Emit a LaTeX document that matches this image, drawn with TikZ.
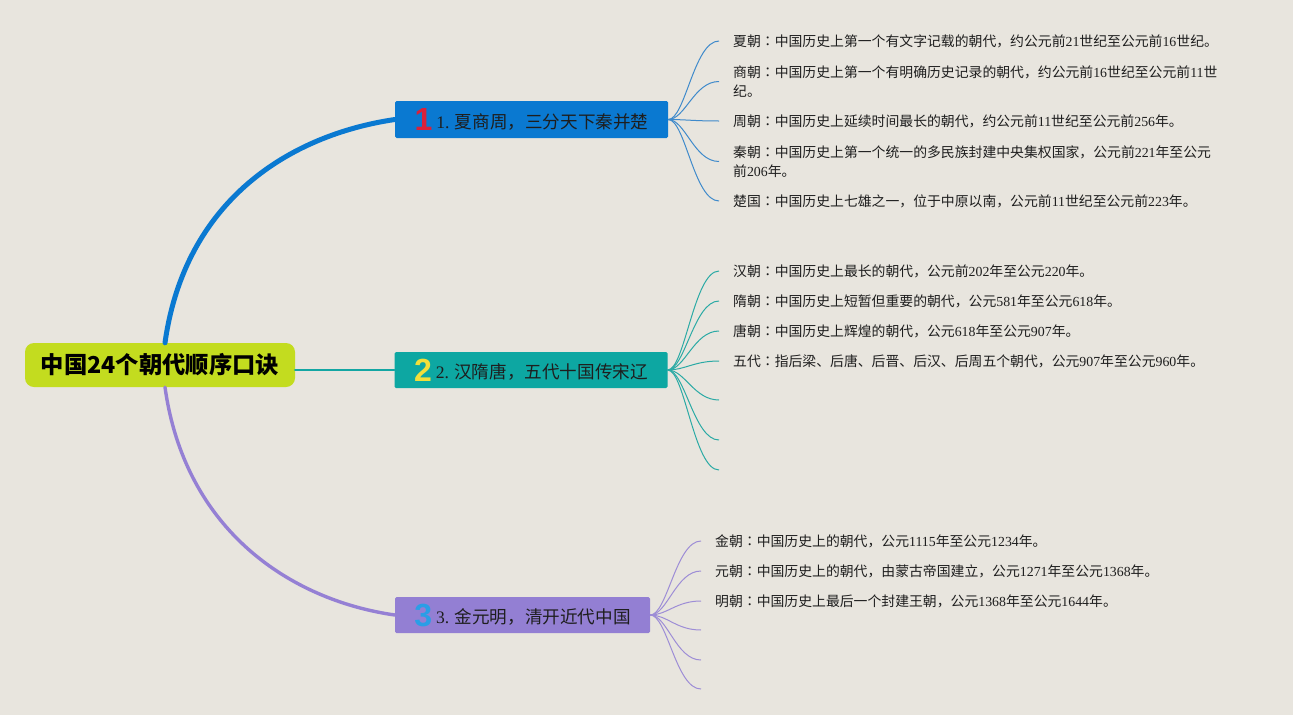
\documentclass[tikz,border=0pt]{standalone}
\usepackage{fontspec}
\setmainfont{Liberation Serif}
\newfontfamily\cjk{Noto Sans CJK SC}
\newfontfamily\cjkjp{Noto Sans CJK JP}
\newfontfamily\iconfont{Liberation Sans}
\newcommand\dg[1]{{\rmfamily #1}}
\newcommand\cc{{\cjkjp ：}}
\definecolor{bgc}{HTML}{E8E5DE}
\definecolor{rootfill}{HTML}{C3DC1F}
\definecolor{bluefill}{HTML}{0A79D1}
\definecolor{tealfill}{HTML}{0DA7A2}
\definecolor{purpfill}{HTML}{937FD3}
\definecolor{blueline}{HTML}{0A79D1}
\definecolor{tealline}{HTML}{13A6A3}
\definecolor{purpline}{HTML}{9580D4}
\definecolor{blueleaf}{HTML}{3F8ACB}
\definecolor{tealleaf}{HTML}{2BAAA5}
\definecolor{purpleaf}{HTML}{9D8DD6}
\definecolor{iconR}{HTML}{D9213B}
\definecolor{iconY}{HTML}{F2DF3A}
\definecolor{iconB}{HTML}{2A9EE6}
\definecolor{txt}{HTML}{1E1E1E}
\newcommand\icon[2]{\raisebox{-2.5pt}{\iconfont\bfseries\fontsize{32}{32}\selectfont\color{#1}#2}\hspace{4pt}}
\begin{document}
\begin{tikzpicture}[x=1pt,y=-1pt,
  rootbox/.style={fill=rootfill, rounded corners=9pt, minimum width=270pt, minimum height=44pt,
    inner sep=0pt, font=\cjk\bfseries\fontsize{23.3}{26}\selectfont, text=black},
  topicbox/.style={rounded corners=1.5pt, minimum height=37pt, inner sep=0pt,
    font=\cjk\fontsize{17.6}{20}\selectfont, text=txt},
  leaf/.style={anchor=west, align=left, inner xsep=14pt, inner ysep=0pt,
    font=\cjk\fontsize{13.85}{19}\selectfont, text=txt},
  mainline/.style={line cap=round},
  leafline/.style={line width=1pt}
]
\path[fill=bgc] (0,0) rectangle (1293,715);
\useasboundingbox (0,0) rectangle (1293,715);

% root
\node[rootbox] (root) at (160,365) {中国24个朝代顺序口诀};

% topic boxes
\node[topicbox, fill=bluefill, minimum width=273pt] (b1) at (531.5,119.5) {\icon{iconR}{1}\dg{1.} 夏商周，三分天下秦并楚};
\node[topicbox, fill=tealfill, minimum width=273pt, minimum height=36pt] (b2) at (531,370) {\icon{iconY}{2}\dg{2.} 汉隋唐，五代十国传宋辽};
\node[topicbox, fill=purpfill, minimum width=255pt, minimum height=36pt] (b3) at (522.5,615) {\icon{iconB}{3}\dg{3.} 金元明，清开近代中国};

% main connectors
\draw[mainline, blueline, line width=5pt] ([xshift=5pt]root.north) .. controls (185,200) and (290,135) .. (b1.west);
\draw[mainline, tealline, line width=2.8pt] (root.east |- b2.west) -- (b2.west);
\draw[mainline, purpline, line width=3.4pt] ([xshift=5pt]root.south) .. controls (185,530) and (290,600) .. (b3.west);

% branch 1 leaves
\node[leaf] (l11) at (719,41) {夏朝\cc 中国历史上第一个有文字记载的朝代，约公元前\dg{21}世纪至公元前\dg{16}世纪。};
\node[leaf] (l12) at (719,81.5) {商朝\cc 中国历史上第一个有明确历史记录的朝代，约公元前\dg{16}世纪至公元前\dg{11}世\\纪。};
\node[leaf] (l13) at (719,121) {周朝\cc 中国历史上延续时间最长的朝代，约公元前\dg{11}世纪至公元前\dg{256}年。};
\node[leaf] (l14) at (719,161.5) {秦朝\cc 中国历史上第一个统一的多民族封建中央集权国家，公元前\dg{221}年至公元\\前\dg{206}年。};
\node[leaf] (l15) at (719,201) {楚国\cc 中国历史上七雄之一，位于中原以南，公元前\dg{11}世纪至公元前\dg{223}年。};
\foreach \n in {l11,l12,l13,l14,l15}
  \draw[leafline, blueleaf] (b1.east) .. controls +(17,0) and +(-25,0) .. (\n.west);

% branch 2 leaves
\node[leaf] (l21) at (719,271) {汉朝\cc 中国历史上最长的朝代，公元前\dg{202}年至公元\dg{220}年。};
\node[leaf] (l22) at (719,301) {隋朝\cc 中国历史上短暂但重要的朝代，公元\dg{581}年至公元\dg{618}年。};
\node[leaf] (l23) at (719,331) {唐朝\cc 中国历史上辉煌的朝代，公元\dg{618}年至公元\dg{907}年。};
\node[leaf] (l24) at (719,361) {五代\cc 指后梁、后唐、后晋、后汉、后周五个朝代，公元\dg{907}年至公元\dg{960}年。};
\coordinate (e25) at (719,400);
\coordinate (e26) at (719,440);
\coordinate (e27) at (719,470);
\foreach \n in {l21.west,l22.west,l23.west,l24.west,e25,e26,e27}
  \draw[leafline, tealleaf] (b2.east) .. controls +(17,0) and +(-25,0) .. (\n);

% branch 3 leaves
\node[leaf] (l31) at (701,541) {金朝\cc 中国历史上的朝代，公元\dg{1115}年至公元\dg{1234}年。};
\node[leaf] (l32) at (701,571) {元朝\cc 中国历史上的朝代，由蒙古帝国建立，公元\dg{1271}年至公元\dg{1368}年。};
\node[leaf] (l33) at (701,601) {明朝\cc 中国历史上最后一个封建王朝，公元\dg{1368}年至公元\dg{1644}年。};
\coordinate (e34) at (701,630);
\coordinate (e35) at (701,660);
\coordinate (e36) at (701,689);
\foreach \n in {l31.west,l32.west,l33.west,e34,e35,e36}
  \draw[leafline, purpleaf] (b3.east) .. controls +(17,0) and +(-25,0) .. (\n);
\end{tikzpicture}
\end{document}
